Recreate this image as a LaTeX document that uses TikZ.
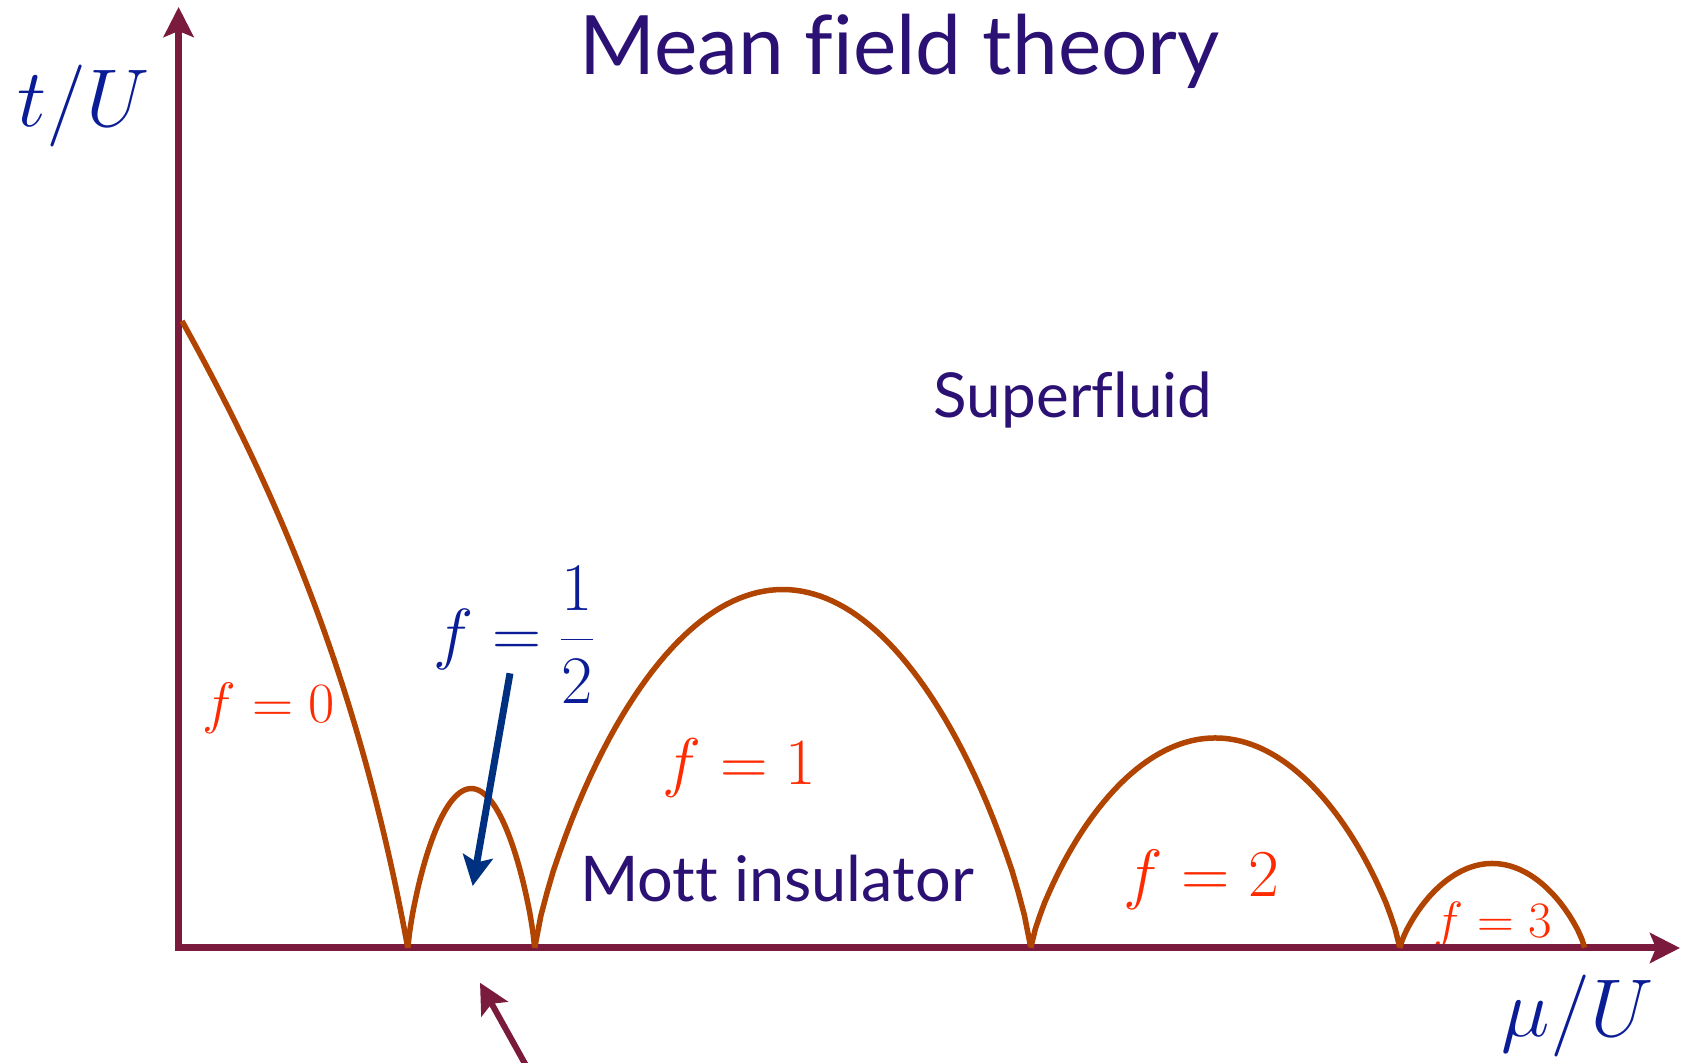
\RequirePackage{fix-cm}
\documentclass[tikz,border=0pt]{standalone}
\usepackage[no-math]{fontspec}
\newfontfamily\gillfont[Ligatures=CommonOff]{Lato}
\usepackage{amsmath}
\usetikzlibrary{arrows.meta}
\definecolor{axisMaroon}{HTML}{7A1A3C}
\definecolor{lobeOrange}{HTML}{B04400}
\definecolor{labelRed}{HTML}{FF2A00}
\definecolor{labelBlue}{HTML}{0A1C96}
\definecolor{arrowBlue}{HTML}{003080}
\definecolor{textPurple}{HTML}{2C1175}
\tikzset{
    axis/.style={draw=axisMaroon, line width=7pt},
    lobe/.style={draw=lobeOrange, line width=5.5pt},
    phase/.style={text=textPurple, anchor=base, font=\gillfont\fontsize{#1}{#1}\selectfont},
    filling/.style={text=labelRed, anchor=base, font=\fontsize{#1}{#1}\selectfont},
    axislabel/.style={text=labelBlue, anchor=base, font=\fontsize{82}{82}\selectfont}
}
\newcommand{\lobe}[3]{
    % left cusp, right cusp, height of the lobe
    \draw [lobe] plot [domain=-1:1, samples=81] ({(#1+#2)/2 + (#2-#1)/2*\x}, {#3*(1.0001-(\x)*(\x))^0.8});
}

\begin{document}
\begin{tikzpicture}[x=1pt, y=1pt, inner sep=0pt, >={Stealth[length=30pt, width=30pt, inset=6pt]}]
    \useasboundingbox (-178.6,-115) rectangle (1508.4,948);

    \coordinate (O) at (0,0);
    \coordinate (ytip) at (0,941);
    \coordinate (xtip) at (1501.4,0);
    \coordinate (c0) at (229.2,0);

    \node (f3) [filling=51] at (1313.9,10) {$f=3$};

    \draw [axis, <->] (ytip) -- (O) -- (xtip);

    % phase boundary
    \draw [lobe] (3.4,627) .. controls (93.4,465) and (179,275) .. (c0);
    \lobe{229.2}{356.1}{159.4}
    \lobe{356.1}{852.1}{358.4}
    \lobe{852.1}{1221.2}{210}
    \lobe{1221.2}{1406}{84.5}

    \node (title) [phase=82] at (720.9,873) {Mean field theory};
    \node (sf) [phase=62] at (894.4,530.7) {Superfluid};
    \node (mott) [phase=63] at (598.4,46) {Mott insulator};

    \node (tU) [axislabel] at (-94.6,821.3) {$t/U$};
    \node (muU) [axislabel] at (1398.9,-88.7) {$\mu/U$};

    \node (f0) [filling=57] at (90.4,225) {$f=0$};
    \node (f1) [filling=66] at (561,163.4) {$f=1$};
    \node (f2) [filling=67] at (1022.4,51) {$f=2$};
    \node (fhalf) [text=labelBlue, anchor=base, font=\fontsize{68}{68}\selectfont] at (335,291) {$f=\dfrac{1}{2}$};

    \coordinate (halfFrom) at (331.4,274.7);
    \coordinate (halfTo) at (294.1,62);
    \coordinate (gapFrom) at (351,-124);
    \coordinate (gapTo) at (301.4,-34.7);
    \draw [draw=arrowBlue, line width=7pt, ->] (halfFrom) -- (halfTo);
    \draw [axis, line width=6pt, ->] (gapFrom) -- (gapTo);
\end{tikzpicture}
\end{document}
